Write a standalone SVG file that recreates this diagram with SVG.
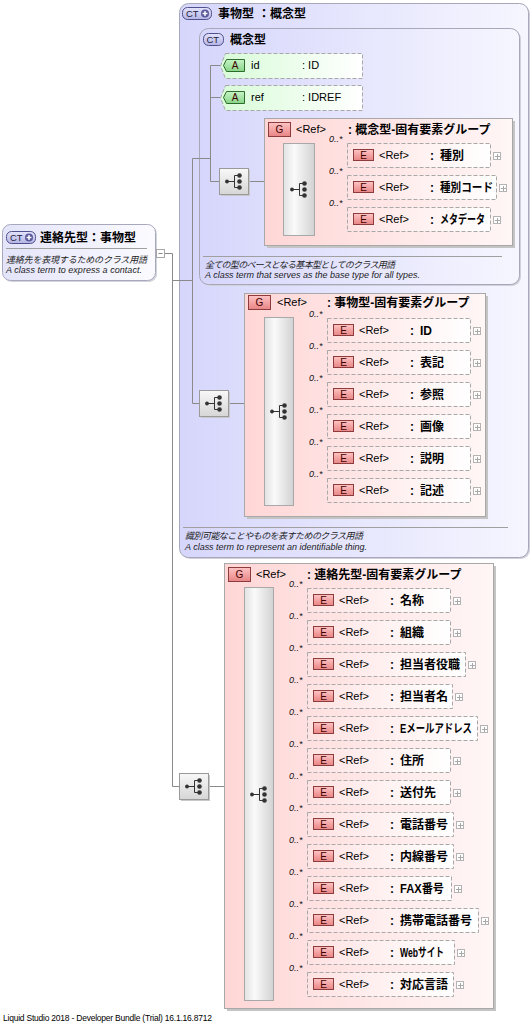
<svg xmlns="http://www.w3.org/2000/svg" xmlns:xlink="http://www.w3.org/1999/xlink" width="532" height="1024" viewBox="0 0 532 1024">
<defs>
<linearGradient id="gCT" x1="0" y1="0" x2="1" y2="0"><stop offset="0" stop-color="#d6d6fc"/><stop offset="1" stop-color="#f6f6ff"/></linearGradient>
<linearGradient id="gNode" x1="0" y1="0" x2="1" y2="0"><stop offset="0" stop-color="#e4e4fa"/><stop offset="1" stop-color="#fbfbff"/></linearGradient>
<linearGradient id="gGrp" x1="0" y1="0" x2="1" y2="0"><stop offset="0" stop-color="#ffd6d6"/><stop offset="1" stop-color="#fff6f6"/></linearGradient>
<linearGradient id="gEl" x1="0" y1="0" x2="1" y2="0"><stop offset="0" stop-color="#ffe2e2"/><stop offset="1" stop-color="#ffffff"/></linearGradient>
<linearGradient id="gAt" x1="0" y1="0" x2="1" y2="0"><stop offset="0" stop-color="#d8fcd8"/><stop offset="1" stop-color="#ffffff"/></linearGradient>
<linearGradient id="gBar" x1="0" y1="0" x2="1" y2="0"><stop offset="0" stop-color="#e2e2e2"/><stop offset="0.35" stop-color="#fafafa"/><stop offset="1" stop-color="#d2d2d2"/></linearGradient>
<linearGradient id="gIcon" x1="0" y1="0" x2="0" y2="1"><stop offset="0" stop-color="#f8f8f8"/><stop offset="1" stop-color="#d6d6d6"/></linearGradient>
<linearGradient id="gEB" x1="0" y1="0" x2="0" y2="1"><stop offset="0" stop-color="#ffc4c4"/><stop offset="1" stop-color="#e88484"/></linearGradient>
<linearGradient id="gAB" x1="0" y1="0" x2="0" y2="1"><stop offset="0" stop-color="#c8f4c8"/><stop offset="1" stop-color="#86d486"/></linearGradient>
<linearGradient id="gCB" x1="0" y1="0" x2="0" y2="1"><stop offset="0" stop-color="#e4e4fc"/><stop offset="1" stop-color="#b4b4e4"/></linearGradient>
<g id="plus"><rect x="0.5" y="0.5" width="7" height="7" fill="#ffffff" stroke="#b4b4b4"/><path d="M2,4.5H7M4.5,2V7" stroke="#a8a8a8" fill="none"/></g>
<g id="seq"><path d="M-6,0H1.5M1.5,-6V6M1.5,-6H6.5M1.5,6H6.5" stroke="#333" stroke-width="1" fill="none"/><circle cx="-6" cy="0" r="1.9" fill="#333"/><circle cx="6.5" cy="-6" r="2.3" fill="#333"/><circle cx="6.5" cy="0" r="2.3" fill="#333"/><circle cx="6.5" cy="6" r="2.3" fill="#333"/></g>
<g id="ctplus"><rect x="0.5" y="0.5" width="29" height="12" rx="5" fill="url(#gCB)" stroke="#50508c"/><text x="4" y="10" class="bd">CT</text><circle cx="23" cy="6.5" r="4" fill="#5a5a9a"/><path d="M20.6,6.5H25.4M23,4.1V8.9" stroke="#fff" stroke-width="1.4"/></g>
</defs>
<style>
.t{font-family:"Liberation Sans","Noto Sans CJK JP",sans-serif;font-size:11px;fill:#000}
.b{font-weight:bold;font-size:12px}
.h{font-family:"Liberation Sans","Noto Sans CJK JP",sans-serif;font-size:12px;font-weight:bold;fill:#000}
.oc{font-family:"Liberation Sans",sans-serif;font-size:9px;font-style:italic;fill:#111}
.ds{font-family:"Liberation Sans","Noto Sans CJK JP",sans-serif;font-size:9px;font-style:italic;fill:#222}
.bd{font-family:"Liberation Sans",sans-serif;font-size:9.5px;fill:#202040}
.bt{font-family:"Liberation Sans",sans-serif;font-size:10px;fill:#400000;text-anchor:middle}
.conn{fill:none;stroke:#8a8a8a;stroke-width:1}
.el{fill:url(#gEl);stroke:#a8a8a8;stroke-dasharray:4,2}
.eb{fill:url(#gEB);stroke:#8c3c3c}
.grp{fill:url(#gGrp);stroke:#a8a8a8}
.shd{fill:#c4c4c4}
.bar{fill:url(#gBar);stroke:#a8a8a8}
.icn{fill:url(#gIcon);stroke:#9a9a9a}
.ct{fill:url(#gCT);stroke:#a8a8b8}
.sep{stroke:#a0a0a0;stroke-width:1}
</style>
<rect x="0" y="0" width="532" height="1024" fill="#ffffff"/>

<!-- outer CT 事物型 -->
<g id="ct-jibutsu">
<rect x="181" y="5" width="349" height="554" rx="9" fill="#d0d0dc"/>
<rect x="179.5" y="3.5" width="349" height="554" rx="9" class="ct"/>
<use href="#ctplus" x="182" y="7"/>
<text class="h" x="218" y="18">事物型</text>
<text class="h" x="258" y="18">：概念型</text>
<line class="sep" x1="183" y1="527.5" x2="508" y2="527.5"/>
<text class="ds" x="185" y="539" textLength="178">識別可能なことやものを表すためのクラス用語</text>
<text class="ds" x="185" y="550" textLength="182">A class term to represent an identifiable thing.</text>
</g>

<!-- inner CT 概念型 -->
<g id="ct-gainen">
<rect x="201" y="30" width="320" height="256" rx="9" fill="#d0d0dc"/>
<rect x="199.5" y="28.5" width="320" height="256" rx="9" class="ct"/>
<rect x="203.5" y="33.5" width="20" height="12" rx="5" fill="url(#gCB)" stroke="#50508c"/>
<text class="bd" x="206.5" y="43">CT</text>
<text class="h" x="230" y="44">概念型</text>
<line class="sep" x1="203" y1="256.5" x2="502" y2="256.5"/>
<text class="ds" x="205" y="268" textLength="190">全ての型のベースとなる基本型としてのクラス用語</text>
<text class="ds" x="205" y="278" textLength="215">A class term that serves as the base type for all types.</text>
</g>

<!-- left node 連絡先型 -->
<g id="node-renrakusaki">
<rect x="4" y="226" width="153" height="56" rx="8" fill="#d4d4dc"/>
<rect x="2.5" y="224.5" width="153" height="56" rx="8" fill="url(#gNode)" stroke="#a8a8bc"/>
<use href="#ctplus" x="6" y="231"/>
<text class="h" x="40" y="242">連絡先型：事物型</text>
<line class="sep" x1="6" y1="248.5" x2="147" y2="248.5"/>
<text class="ds" x="6" y="263" textLength="141">連絡先を表現するためのクラス用語</text>
<text class="ds" x="6" y="272.5" textLength="136">A class term to express a contact.</text>
<rect x="156.5" y="249.5" width="8" height="8" fill="#fff" stroke="#a8a8a8"/>
<path d="M158.5,253.5H162.5" stroke="#888"/>
</g>

<!-- connectors -->
<g id="connectors">
<path class="conn" d="M165,253.5H172.5V786.5H179"/>
<path class="conn" d="M172.5,280.5H192.5"/>
<path class="conn" d="M192.5,158.5V403.5H199"/>
<path class="conn" d="M192.5,158.5H210.5"/>
<path class="conn" d="M210.5,65.5V181.5H219"/>
<path class="conn" d="M210.5,65.5H220M210.5,97.5H220"/>
<path class="conn" d="M248,181.5H264M264,189.5H283"/>
<path class="conn" d="M228,403.5H244M244,411.5H264"/>
<path class="conn" d="M208,786.5H224M224,794.5H244"/>
<path class="conn" d="M314,156.5H347M314,188.5H347M314,220.5H347"/>
<path class="conn" d="M293,331.5H327M293,363.5H327M293,395.5H327M293,427.5H327M293,459.5H327M293,491.5H327"/>
<path class="conn" d="M273,601.5H307M273,633.5H307M273,665.5H307M273,697.5H307M273,729.5H307M273,761.5H307M273,793.5H307M273,825.5H307M273,857.5H307M273,889.5H307M273,921.5H307M273,953.5H307M273,985.5H307"/>
</g>

<!-- attributes -->
<g id="attr-id" transform="translate(220,53)">
<path d="M5.5,0.5H142.5V25.5H5.5L0.5,13Z" fill="url(#gAt)" stroke="#a8a8a8" stroke-dasharray="4,2"/>
<path d="M6.5,6.5H24.5V18.5H6.5L3.5,12.5Z" fill="url(#gAB)" stroke="#2c6c2c"/>
<text class="bt" x="15" y="16" fill="#003000">A</text>
<text class="t" x="31" y="16">id</text>
<text class="t" x="82" y="16">: ID</text>
</g>
<g id="attr-ref" transform="translate(220,85)">
<path d="M5.5,0.5H142.5V25.5H5.5L0.5,13Z" fill="url(#gAt)" stroke="#a8a8a8" stroke-dasharray="4,2"/>
<path d="M6.5,6.5H24.5V18.5H6.5L3.5,12.5Z" fill="url(#gAB)" stroke="#2c6c2c"/>
<text class="bt" x="15" y="16" fill="#003000">A</text>
<text class="t" x="31" y="16">ref</text>
<text class="t" x="82" y="16">: IDREF</text>
</g>

<!-- sequence icons -->
<g id="seq-gainen"><rect x="221" y="170" width="29" height="26" fill="#c8c8c8"/><rect x="219.5" y="168.5" width="29" height="26" class="icn"/><use href="#seq" x="233" y="181.5"/></g>
<g id="seq-jibutsu"><rect x="201" y="392" width="29" height="26" fill="#c8c8c8"/><rect x="199.5" y="390.5" width="29" height="26" class="icn"/><use href="#seq" x="213" y="403.5"/></g>
<g id="seq-renraku"><rect x="181" y="775" width="29" height="26" fill="#c8c8c8"/><rect x="179.5" y="773.5" width="29" height="26" class="icn"/><use href="#seq" x="193" y="786.5"/></g>

<!-- group 概念型-固有要素グループ -->
<g id="grp-gainen">
<rect x="267" y="121" width="248" height="127" class="shd"/>
<rect x="264.5" y="118.5" width="248" height="127" class="grp"/>
<rect x="268.5" y="122.5" width="22" height="14" class="eb"/>
<text class="bt" x="279.5" y="133">G</text>
<text class="t" x="296" y="133">&lt;Ref&gt;</text>
<text class="t b" x="348" y="133.5">: 概念型-固有要素グループ</text>
<rect x="283.5" y="143.5" width="31" height="92" class="bar"/>
<use href="#seq" x="298" y="189.5"/>
</g>
<g id="el-shubetsu" transform="translate(347,143)">
<text class="oc" x="-18" y="-1">0..*</text>
<rect class="el" x="0.5" y="0.5" width="143" height="24"/>
<rect class="eb" x="6.5" y="6.5" width="20" height="11"/><text class="bt" x="16.5" y="16">E</text>
<text class="t" x="32" y="16">&lt;Ref&gt;</text><text class="t b" x="83" y="16.5">:</text><text class="t b" x="93" y="16.5">種別</text>
<use href="#plus" x="146" y="9"/>
</g>
<g id="el-shubetsucode" transform="translate(347,175)">
<text class="oc" x="-18" y="-1">0..*</text>
<rect class="el" x="0.5" y="0.5" width="149" height="24"/>
<rect class="eb" x="6.5" y="6.5" width="20" height="11"/><text class="bt" x="16.5" y="16">E</text>
<text class="t" x="32" y="16">&lt;Ref&gt;</text><text class="t b" x="83" y="16.5">:</text><text class="t b" x="93" y="16.5" textLength="53" lengthAdjust="spacingAndGlyphs">種別コード</text>
<use href="#plus" x="152" y="9"/>
</g>
<g id="el-metadata" transform="translate(347,207)">
<text class="oc" x="-18" y="-1">0..*</text>
<rect class="el" x="0.5" y="0.5" width="143" height="24"/>
<rect class="eb" x="6.5" y="6.5" width="20" height="11"/><text class="bt" x="16.5" y="16">E</text>
<text class="t" x="32" y="16">&lt;Ref&gt;</text><text class="t b" x="83" y="16.5">:</text><text class="t b" x="93" y="16.5" textLength="45" lengthAdjust="spacingAndGlyphs">メタデータ</text>
<use href="#plus" x="146" y="9"/>
</g>

<!-- group 事物型-固有要素グループ -->
<g id="grp-jibutsu">
<rect x="247" y="296" width="241" height="223" class="shd"/>
<rect x="244.5" y="293.5" width="241" height="223" class="grp"/>
<rect x="248.5" y="295.5" width="22" height="14" class="eb"/>
<text class="bt" x="259.5" y="306">G</text>
<text class="t" x="277" y="306">&lt;Ref&gt;</text>
<text class="t b" x="327" y="306.5">: 事物型-固有要素グループ</text>
<rect x="264.5" y="317.5" width="29" height="188" class="bar"/>
<use href="#seq" x="278" y="411.5"/>
</g>
<g id="el-id" transform="translate(327,318)">
<text class="oc" x="-18" y="-1">0..*</text>
<rect class="el" x="0.5" y="0.5" width="143" height="24"/>
<rect class="eb" x="6.5" y="6.5" width="20" height="11"/><text class="bt" x="16.5" y="16">E</text>
<text class="t" x="32" y="16">&lt;Ref&gt;</text><text class="t b" x="83" y="16.5">:</text><text class="t b" x="93" y="16.5">ID</text>
<use href="#plus" x="146" y="9"/>
</g>
<g id="el-hyouki" transform="translate(327,350)">
<text class="oc" x="-18" y="-1">0..*</text>
<rect class="el" x="0.5" y="0.5" width="143" height="24"/>
<rect class="eb" x="6.5" y="6.5" width="20" height="11"/><text class="bt" x="16.5" y="16">E</text>
<text class="t" x="32" y="16">&lt;Ref&gt;</text><text class="t b" x="83" y="16.5">:</text><text class="t b" x="93" y="16.5">表記</text>
<use href="#plus" x="146" y="9"/>
</g>
<g id="el-sanshou" transform="translate(327,382)">
<text class="oc" x="-18" y="-1">0..*</text>
<rect class="el" x="0.5" y="0.5" width="143" height="24"/>
<rect class="eb" x="6.5" y="6.5" width="20" height="11"/><text class="bt" x="16.5" y="16">E</text>
<text class="t" x="32" y="16">&lt;Ref&gt;</text><text class="t b" x="83" y="16.5">:</text><text class="t b" x="93" y="16.5">参照</text>
<use href="#plus" x="146" y="9"/>
</g>
<g id="el-gazou" transform="translate(327,414)">
<text class="oc" x="-18" y="-1">0..*</text>
<rect class="el" x="0.5" y="0.5" width="143" height="24"/>
<rect class="eb" x="6.5" y="6.5" width="20" height="11"/><text class="bt" x="16.5" y="16">E</text>
<text class="t" x="32" y="16">&lt;Ref&gt;</text><text class="t b" x="83" y="16.5">:</text><text class="t b" x="93" y="16.5">画像</text>
<use href="#plus" x="146" y="9"/>
</g>
<g id="el-setsumei" transform="translate(327,446)">
<text class="oc" x="-18" y="-1">0..*</text>
<rect class="el" x="0.5" y="0.5" width="143" height="24"/>
<rect class="eb" x="6.5" y="6.5" width="20" height="11"/><text class="bt" x="16.5" y="16">E</text>
<text class="t" x="32" y="16">&lt;Ref&gt;</text><text class="t b" x="83" y="16.5">:</text><text class="t b" x="93" y="16.5">説明</text>
<use href="#plus" x="146" y="9"/>
</g>
<g id="el-kijutsu" transform="translate(327,478)">
<text class="oc" x="-18" y="-1">0..*</text>
<rect class="el" x="0.5" y="0.5" width="143" height="24"/>
<rect class="eb" x="6.5" y="6.5" width="20" height="11"/><text class="bt" x="16.5" y="16">E</text>
<text class="t" x="32" y="16">&lt;Ref&gt;</text><text class="t b" x="83" y="16.5">:</text><text class="t b" x="93" y="16.5">記述</text>
<use href="#plus" x="146" y="9"/>
</g>

<!-- group 連絡先型-固有要素グループ -->
<g id="grp-renraku">
<rect x="227" y="566" width="269" height="445" class="shd"/>
<rect x="224.5" y="563.5" width="269" height="445" class="grp"/>
<rect x="228.5" y="567.5" width="22" height="14" class="eb"/>
<text class="bt" x="239.5" y="578">G</text>
<text class="t" x="256" y="578">&lt;Ref&gt;</text>
<text class="t b" x="307" y="578.5">: 連絡先型-固有要素グループ</text>
<rect x="244.5" y="587.5" width="29" height="413" class="bar"/>
<use href="#seq" x="258" y="794.5"/>
</g>
<g id="el-meishou" transform="translate(307,588)">
<text class="oc" x="-18" y="-1">0..*</text>
<rect class="el" x="0.5" y="0.5" width="143" height="24"/>
<rect class="eb" x="6.5" y="6.5" width="20" height="11"/><text class="bt" x="16.5" y="16">E</text>
<text class="t" x="32" y="16">&lt;Ref&gt;</text><text class="t b" x="83" y="16.5">:</text><text class="t b" x="93" y="16.5">名称</text>
<use href="#plus" x="146" y="9"/>
</g>
<g id="el-soshiki" transform="translate(307,620)">
<text class="oc" x="-18" y="-1">0..*</text>
<rect class="el" x="0.5" y="0.5" width="143" height="24"/>
<rect class="eb" x="6.5" y="6.5" width="20" height="11"/><text class="bt" x="16.5" y="16">E</text>
<text class="t" x="32" y="16">&lt;Ref&gt;</text><text class="t b" x="83" y="16.5">:</text><text class="t b" x="93" y="16.5">組織</text>
<use href="#plus" x="146" y="9"/>
</g>
<g id="el-tantoushayakushoku" transform="translate(307,652)">
<text class="oc" x="-18" y="-1">0..*</text>
<rect class="el" x="0.5" y="0.5" width="158" height="24"/>
<rect class="eb" x="6.5" y="6.5" width="20" height="11"/><text class="bt" x="16.5" y="16">E</text>
<text class="t" x="32" y="16">&lt;Ref&gt;</text><text class="t b" x="83" y="16.5">:</text><text class="t b" x="93" y="16.5">担当者役職</text>
<use href="#plus" x="161" y="9"/>
</g>
<g id="el-tantoushamei" transform="translate(307,684)">
<text class="oc" x="-18" y="-1">0..*</text>
<rect class="el" x="0.5" y="0.5" width="145" height="24"/>
<rect class="eb" x="6.5" y="6.5" width="20" height="11"/><text class="bt" x="16.5" y="16">E</text>
<text class="t" x="32" y="16">&lt;Ref&gt;</text><text class="t b" x="83" y="16.5">:</text><text class="t b" x="93" y="16.5">担当者名</text>
<use href="#plus" x="148" y="9"/>
</g>
<g id="el-email" transform="translate(307,716)">
<text class="oc" x="-18" y="-1">0..*</text>
<rect class="el" x="0.5" y="0.5" width="170" height="24"/>
<rect class="eb" x="6.5" y="6.5" width="20" height="11"/><text class="bt" x="16.5" y="16">E</text>
<text class="t" x="32" y="16">&lt;Ref&gt;</text><text class="t b" x="83" y="16.5">:</text><text class="t b" x="93" y="16.5" textLength="72" lengthAdjust="spacingAndGlyphs">Eメールアドレス</text>
<use href="#plus" x="173" y="9"/>
</g>
<g id="el-jusho" transform="translate(307,748)">
<text class="oc" x="-18" y="-1">0..*</text>
<rect class="el" x="0.5" y="0.5" width="143" height="24"/>
<rect class="eb" x="6.5" y="6.5" width="20" height="11"/><text class="bt" x="16.5" y="16">E</text>
<text class="t" x="32" y="16">&lt;Ref&gt;</text><text class="t b" x="83" y="16.5">:</text><text class="t b" x="93" y="16.5">住所</text>
<use href="#plus" x="146" y="9"/>
</g>
<g id="el-soufusaki" transform="translate(307,780)">
<text class="oc" x="-18" y="-1">0..*</text>
<rect class="el" x="0.5" y="0.5" width="143" height="24"/>
<rect class="eb" x="6.5" y="6.5" width="20" height="11"/><text class="bt" x="16.5" y="16">E</text>
<text class="t" x="32" y="16">&lt;Ref&gt;</text><text class="t b" x="83" y="16.5">:</text><text class="t b" x="93" y="16.5">送付先</text>
<use href="#plus" x="146" y="9"/>
</g>
<g id="el-denwa" transform="translate(307,812)">
<text class="oc" x="-18" y="-1">0..*</text>
<rect class="el" x="0.5" y="0.5" width="146" height="24"/>
<rect class="eb" x="6.5" y="6.5" width="20" height="11"/><text class="bt" x="16.5" y="16">E</text>
<text class="t" x="32" y="16">&lt;Ref&gt;</text><text class="t b" x="83" y="16.5">:</text><text class="t b" x="93" y="16.5">電話番号</text>
<use href="#plus" x="149" y="9"/>
</g>
<g id="el-naisen" transform="translate(307,844)">
<text class="oc" x="-18" y="-1">0..*</text>
<rect class="el" x="0.5" y="0.5" width="146" height="24"/>
<rect class="eb" x="6.5" y="6.5" width="20" height="11"/><text class="bt" x="16.5" y="16">E</text>
<text class="t" x="32" y="16">&lt;Ref&gt;</text><text class="t b" x="83" y="16.5">:</text><text class="t b" x="93" y="16.5">内線番号</text>
<use href="#plus" x="149" y="9"/>
</g>
<g id="el-fax" transform="translate(307,876)">
<text class="oc" x="-18" y="-1">0..*</text>
<rect class="el" x="0.5" y="0.5" width="144" height="24"/>
<rect class="eb" x="6.5" y="6.5" width="20" height="11"/><text class="bt" x="16.5" y="16">E</text>
<text class="t" x="32" y="16">&lt;Ref&gt;</text><text class="t b" x="83" y="16.5">:</text><text class="t b" x="93" y="16.5" textLength="44" lengthAdjust="spacingAndGlyphs">FAX番号</text>
<use href="#plus" x="147" y="9"/>
</g>
<g id="el-keitai" transform="translate(307,908)">
<text class="oc" x="-18" y="-1">0..*</text>
<rect class="el" x="0.5" y="0.5" width="171" height="24"/>
<rect class="eb" x="6.5" y="6.5" width="20" height="11"/><text class="bt" x="16.5" y="16">E</text>
<text class="t" x="32" y="16">&lt;Ref&gt;</text><text class="t b" x="83" y="16.5">:</text><text class="t b" x="93" y="16.5">携帯電話番号</text>
<use href="#plus" x="174" y="9"/>
</g>
<g id="el-web" transform="translate(307,940)">
<text class="oc" x="-18" y="-1">0..*</text>
<rect class="el" x="0.5" y="0.5" width="147" height="24"/>
<rect class="eb" x="6.5" y="6.5" width="20" height="11"/><text class="bt" x="16.5" y="16">E</text>
<text class="t" x="32" y="16">&lt;Ref&gt;</text><text class="t b" x="83" y="16.5">:</text><text class="t b" x="93" y="16.5" textLength="44" lengthAdjust="spacingAndGlyphs">Webサイト</text>
<use href="#plus" x="150" y="9"/>
</g>
<g id="el-taiougengo" transform="translate(307,972)">
<text class="oc" x="-18" y="-1">0..*</text>
<rect class="el" x="0.5" y="0.5" width="146" height="24"/>
<rect class="eb" x="6.5" y="6.5" width="20" height="11"/><text class="bt" x="16.5" y="16">E</text>
<text class="t" x="32" y="16">&lt;Ref&gt;</text><text class="t b" x="83" y="16.5">:</text><text class="t b" x="93" y="16.5">対応言語</text>
<use href="#plus" x="149" y="9"/>
</g>

<text x="3" y="1021" font-family="Liberation Sans, sans-serif" font-size="8.5" fill="#000" textLength="209">Liquid Studio 2018 - Developer Bundle (Trial) 16.1.16.8712</text>
</svg>
